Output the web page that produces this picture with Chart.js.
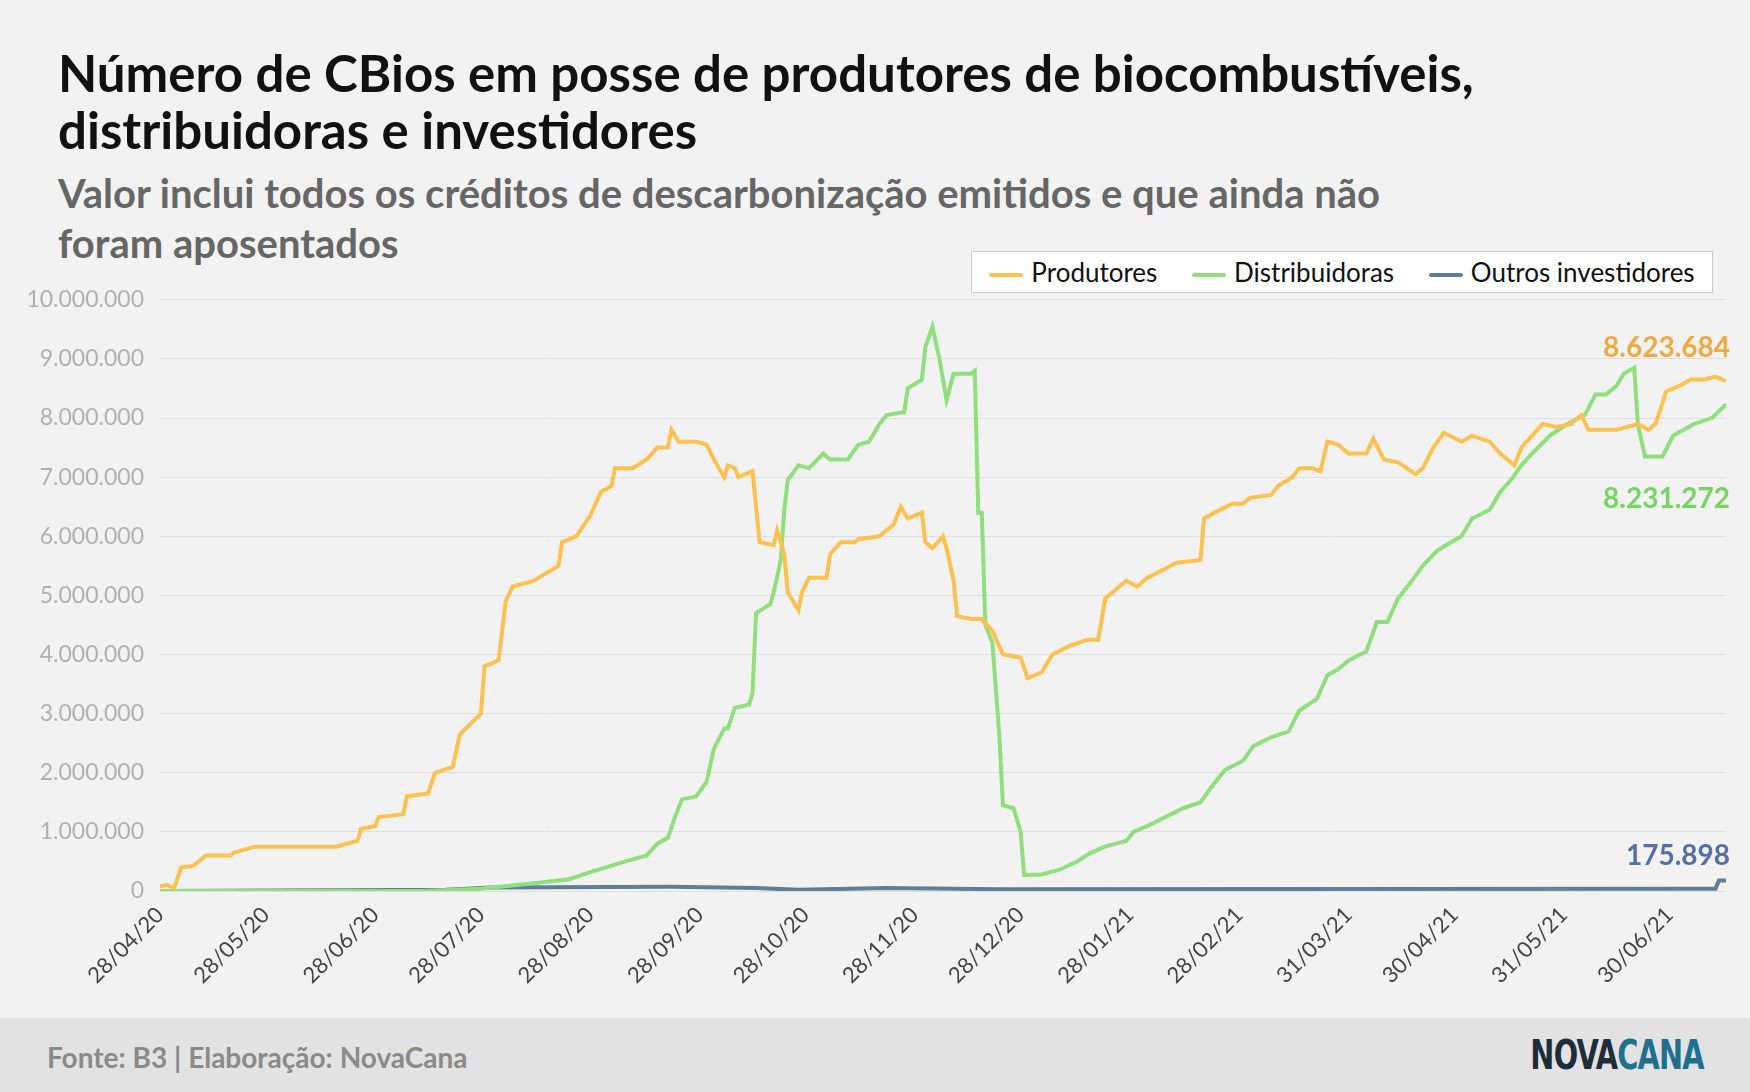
<!DOCTYPE html>
<html><head><meta charset="utf-8">
<script src="https://cdn.jsdelivr.net/npm/chart.js@4.4.1/dist/chart.umd.min.js"></script>
<style>
body{margin:0;width:1750px;height:1092px;background:#f2f2f2;font-family:Lato,sans-serif;position:relative;overflow:hidden}
#title{position:absolute;left:58px;top:44px;font-size:51px;font-weight:bold;color:#111;line-height:57px}
#sub{position:absolute;left:58px;top:168px;font-size:40px;font-weight:bold;color:#666;line-height:50px}
#legend{position:absolute;left:971px;top:251px;width:740px;height:40px;border:1px solid #ccc;background:#fff;font-size:26px;color:#111;display:flex;align-items:center;justify-content:space-around;z-index:2}
#legend span i{display:inline-block;width:34px;height:4px;vertical-align:middle;margin-right:8px;border-radius:2px}
#wrap{position:absolute;left:0;top:270px;width:1750px;height:748px}
#foot{position:absolute;left:0;top:1018px;width:1750px;height:74px;background:#e2e2e2}
#src{position:absolute;left:47px;top:22px;font-size:28px;font-weight:bold;color:#8a8a8a}
#logo{position:absolute;right:46px;top:14px;font-size:40px;font-weight:bold;font-family:"DejaVu Sans Condensed","Liberation Sans Narrow",sans-serif;letter-spacing:-1px;transform:scaleX(.8);transform-origin:right}
</style></head><body>
<div id="title">Número de CBios em posse de produtores de biocombustíveis,<br>distribuidoras e investidores</div>
<div id="sub">Valor inclui todos os créditos de descarbonização emitidos e que ainda não<br>foram aposentados</div>
<div id="legend">
<span><i style="background:#fcc14f"></i>Produtores</span>
<span><i style="background:#8fe07c"></i>Distribuidoras</span>
<span><i style="background:#5f7f96"></i>Outros investidores</span>
</div>
<div id="wrap"><canvas id="c" width="1750" height="748"></canvas></div>
<div id="foot"><div id="src">Fonte: B3 | Elaboração: NovaCana</div>
<div id="logo"><span style="color:#1d2d3a">NOVA</span><span style="color:#1f6f8f">CANA</span></div></div>
<script>
// days counted from 28/04/20
const tickDays = [0,30,61,91,122,153,183,214,244,275,306,337,367,398,428];
const tickLabels = ['28/04/20','28/05/20','28/06/20','28/07/20','28/08/20','28/09/20','28/10/20','28/11/20','28/12/20','28/01/21','28/02/21','31/03/21','30/04/21','31/05/21','30/06/21'];

const prodDays = [0,2,4,6,9,10,13,20,21,27,50,56,57,61,62,69,70,76,78,83,85,91,92,96,98,100,106,113,114,118,122,125,128,129,134,138,141,144,145,147,152,155,157,160,161,163,164,168,170,174,175,177,178,181,182,184,189,190,193,197,198,204,208,210,212,216,217,219,222,223,225,226,230,233,236,239,244,246,250,253,258,263,266,268,271,274,277,280,285,288,295,296,299,304,307,309,315,317,321,323,327,329,331,334,337,342,344,347,351,356,358,361,364,369,372,377,380,384,386,392,396,400,403,405,410,413,419,422,424,426,427,431,434,438,441,444];
const prodVals = [0.08,0.1,0.05,0.4,0.42,0.45,0.6,0.6,0.65,0.75,0.75,0.85,1.05,1.1,1.25,1.3,1.6,1.65,2.0,2.1,2.65,3.0,3.8,3.9,4.9,5.15,5.25,5.5,5.9,6.0,6.35,6.75,6.85,7.15,7.15,7.3,7.5,7.5,7.8,7.6,7.6,7.55,7.3,7.0,7.2,7.15,7.0,7.1,5.9,5.85,6.1,5.7,5.05,4.75,5.05,5.3,5.3,5.7,5.9,5.9,5.95,6.0,6.2,6.5,6.3,6.4,5.9,5.8,6.0,5.8,5.25,4.65,4.6,4.6,4.4,4.0,3.95,3.6,3.7,4.0,4.15,4.25,4.25,4.95,5.1,5.25,5.15,5.3,5.45,5.55,5.6,6.3,6.4,6.55,6.55,6.65,6.7,6.85,7.0,7.15,7.15,7.1,7.6,7.55,7.4,7.4,7.65,7.3,7.25,7.05,7.15,7.5,7.75,7.6,7.7,7.6,7.4,7.2,7.5,7.9,7.85,7.9,8.05,7.8,7.8,7.8,7.9,7.8,7.9,8.25,8.45,8.55,8.65,8.65,8.7,8.623684];

const distDays = [0,75,91,106,116,122,132,138,141,144,146,148,152,155,157,160,161,163,167,168,169,173,174,176,177,178,181,184,188,190,195,198,201,204,206,211,212,216,217,219,221,223,225,230,231,232,233,234,236,238,239,242,244,245,250,255,260,264,268,274,276,280,285,290,295,298,302,307,310,315,320,323,328,331,334,337,342,345,348,351,355,358,362,366,369,372,377,380,383,386,389,394,399,404,407,410,413,415,418,419,421,426,429,432,435,440,444];
const distVals = [0,0,0.04,0.13,0.2,0.32,0.5,0.6,0.8,0.9,1.25,1.55,1.6,1.85,2.4,2.75,2.75,3.1,3.15,3.35,4.7,4.85,5.05,5.6,6.45,6.95,7.2,7.15,7.4,7.3,7.3,7.55,7.6,7.9,8.05,8.1,8.5,8.65,9.2,9.55,9.0,8.3,8.75,8.75,8.8,6.4,6.4,4.5,4.2,2.6,1.45,1.4,1.0,0.27,0.28,0.36,0.5,0.65,0.75,0.85,1.0,1.1,1.25,1.4,1.5,1.75,2.05,2.2,2.45,2.6,2.7,3.05,3.25,3.65,3.75,3.9,4.05,4.55,4.55,4.95,5.25,5.5,5.75,5.9,6.0,6.3,6.45,6.75,6.95,7.2,7.4,7.7,7.9,8.05,8.4,8.4,8.55,8.75,8.85,7.9,7.35,7.35,7.7,7.8,7.9,8.0,8.231272];

const outDays = [0,81,94,145,169,181,206,238,430,441,442,444];
const outVals = [0,0.02,0.06,0.07,0.05,0.02,0.05,0.03,0.04,0.04,0.175898,0.175898];

const toPts = (d, v) => d.map((x, i) => ({x: x, y: v[i] * 1e6}));
const fmt = n => Math.round(n).toString().replace(/\B(?=(\d{3})+(?!\d))/g, '.');

const endLabels = {
    id: 'endLabels',
    afterDatasetsDraw(chart) {
        const ctx = chart.ctx;
        const specs = [[0, '#f2a93b', -24], [1, '#74d561', 104], [2, '#5570a6', -16]];
        ctx.save();
        ctx.font = 'bold 28px Lato';
        ctx.textAlign = 'right';
        specs.forEach(([i, col, dy]) => {
            const data = chart.data.datasets[i].data;
            const p = data[data.length - 1];
            const x = chart.scales.x.getPixelForValue(p.x) + 4;
            const y = chart.scales.y.getPixelForValue(p.y);
            ctx.fillStyle = col;
            ctx.fillText(fmt(p.y), x, y + dy);
        });
        ctx.restore();
    }
};

new Chart(document.getElementById('c'), {
    type: 'line',
    data: {
        datasets: [
            {label: 'Produtores', data: toPts(prodDays, prodVals), borderColor: '#fcc14f'},
            {label: 'Distribuidoras', data: toPts(distDays, distVals), borderColor: '#8fe07c'},
            {label: 'Outros investidores', data: toPts(outDays, outVals), borderColor: '#5f7f96'}
        ]
    },
    options: {
        responsive: false,
        animation: false,
        parsing: false,
        elements: {line: {borderWidth: 4, tension: 0}, point: {radius: 0}},
        layout: {padding: {top: 9, right: 24}},
        plugins: {legend: {display: false}, tooltip: {enabled: false}},
        scales: {
            x: {
                type: 'linear', min: 0, max: 444,
                grid: {display: false},
                border: {display: false},
                afterBuildTicks: s => { s.ticks = tickDays.map(v => ({value: v})); },
                afterFit: s => { s.height = 127; },
                ticks: {
                    minRotation: 45, maxRotation: 45,
                    color: '#444', font: {family: 'Lato', size: 22},
                    callback: v => tickLabels[tickDays.indexOf(v)]
                }
            },
            y: {
                min: 0, max: 10e6,
                grid: {color: '#dedede', drawTicks: false},
                border: {display: false},
                afterFit: s => { s.width = 160; },
                ticks: {stepSize: 1e6, padding: 16, color: '#b0b0b0', font: {family: 'Lato', size: 23}, callback: v => fmt(v)}
            }
        }
    },
    plugins: [endLabels]
});
</script>
</body></html>
